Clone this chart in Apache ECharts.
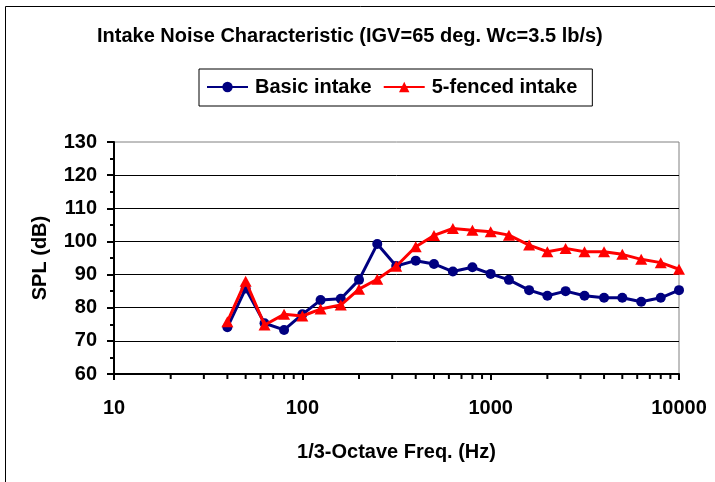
<!DOCTYPE html>
<html>
<head>
<meta charset="utf-8">
<script src="https://cdn.jsdelivr.net/npm/echarts@6/dist/echarts.min.js"></script>
<style>
html,body{margin:0;padding:0;background:#fff;}
#chart{width:715px;height:482px;}
</style>
</head>
<body>
<div id="chart"></div>
<script>
const titleText = 'Intake Noise Characteristic (IGV=65 deg. Wc=3.5 lb/s)';
const freqs = [40, 50, 63, 80, 100, 125, 160, 200, 250, 315, 400, 500, 630, 800, 1000, 1250, 1600, 2000, 2500, 3150, 4000, 5000, 6300, 8000, 10000];
const basicIntake = [74.1, 85.8, 75.3, 73.3, 78.0, 82.3, 82.7, 88.4, 99.2, 92.6, 94.2, 93.2, 90.9, 92.2, 90.2, 88.4, 85.3, 83.6, 85.0, 83.6, 83.0, 83.0, 81.8, 83.0, 85.3];
const fencedIntake = [75.8, 88.0, 74.8, 78.0, 77.5, 79.6, 80.8, 85.6, 88.6, 92.5, 98.4, 101.8, 103.9, 103.4, 102.9, 101.9, 98.9, 96.9, 97.9, 96.9, 96.9, 96.1, 94.6, 93.6, 91.6];
const xMin = 10, xMax = 10000;
const yMin = 60, yMax = 130, yStep = 10;
const xMinorTicks = [20, 30, 40, 50, 60, 70, 80, 90, 200, 300, 400, 500, 600, 700, 800, 900, 2000, 3000, 4000, 5000, 6000, 7000, 8000, 9000];

const FONT = 'Liberation Sans, Arial, sans-serif';
const chart = echarts.init(document.getElementById('chart'), null, {renderer: 'canvas'});
chart.setOption({
  backgroundColor: '#fff',
  animation: false,
  graphic: [{
    type: 'rect', silent: true, z: 100,
    shape: {x: 5.5, y: 6.5, width: 720, height: 500},
    style: {fill: 'none', stroke: '#000', lineWidth: 1}
  }],
  title: {
    text: titleText, left: 97, top: 26, padding: 0,
    textStyle: {fontFamily: FONT, fontSize: 20, fontWeight: 'bold', color: '#000'}
  },
  legend: {
    left: 199, top: 69,
    padding: [8, 15, 9, 7],
    itemGap: 11,
    itemWidth: 41, itemHeight: 13,
    borderColor: '#000', borderWidth: 1,
    data: ['Basic intake', '5-fenced intake'],
    textStyle: {fontFamily: FONT, fontSize: 20, fontWeight: 'bold', color: '#000', padding: [0, 0, 0, 2]}
  },
  grid: {
    left: 114, right: 36, top: 142, bottom: 108,
    show: true, borderColor: '#808080', borderWidth: 1, backgroundColor: 'transparent'
  },
  xAxis: {
    type: 'log', logBase: 10, min: xMin, max: xMax,
    name: '1/3-Octave Freq. (Hz)', nameLocation: 'middle', nameGap: 68,
    nameTextStyle: {fontFamily: FONT, fontSize: 20, fontWeight: 'bold', color: '#000'},
    axisLine: {show: true, onZero: false, lineStyle: {color: '#000', width: 2}},
    axisTick: {show: true, length: 6, lineStyle: {color: '#000', width: 2}},
    axisLabel: {fontFamily: FONT, fontSize: 20, fontWeight: 'bold', color: '#000', margin: 24,
      formatter: v => String(Math.round(v))},
    splitLine: {show: false},
    minorTick: {show: false}
  },
  yAxis: {
    type: 'value', min: yMin, max: yMax, interval: yStep,
    name: 'SPL (dB)', nameLocation: 'middle', nameGap: 64, nameRotate: 90,
    nameTextStyle: {fontFamily: FONT, fontSize: 20, fontWeight: 'bold', color: '#000'},
    axisLine: {show: true, onZero: false, lineStyle: {color: '#000', width: 2}},
    axisTick: {show: true, length: 7, lineStyle: {color: '#000', width: 2}},
    minorTick: {show: true, splitNumber: 2, length: 4, lineStyle: {color: '#000', width: 2}},
    axisLabel: {fontFamily: FONT, fontSize: 20, fontWeight: 'bold', color: '#000', margin: 17},
    splitLine: {show: true, showMinLine: false, showMaxLine: false, lineStyle: {color: '#000', width: 1}}
  },
  series: [
    {
      name: 'Basic intake', type: 'line',
      data: freqs.map((f, i) => [f, basicIntake[i]]),
      symbol: 'circle', symbolSize: 10,
      lineStyle: {color: '#000080', width: 3},
      itemStyle: {color: '#000080'},
      z: 3
    },
    {
      name: '5-fenced intake', type: 'line',
      data: freqs.map((f, i) => [f, fencedIntake[i]]),
      symbol: 'triangle', symbolSize: [12, 11],
      lineStyle: {color: '#ff0000', width: 3},
      itemStyle: {color: '#ff0000'},
      z: 4
    },
    {
      name: 'minorTicks', type: 'custom', silent: true, clip: false,
      data: xMinorTicks.map(v => [v, yMin]),
      encode: {x: 0, y: 1},
      renderItem: function (params, api) {
        const p = api.coord([api.value(0), api.value(1)]);
        return {type: 'line', shape: {x1: p[0], y1: p[1], x2: p[0], y2: p[1] + 5},
          style: {stroke: '#000', lineWidth: 2}};
      },
      z: 5
    }
  ]
});
</script>
</body>
</html>
